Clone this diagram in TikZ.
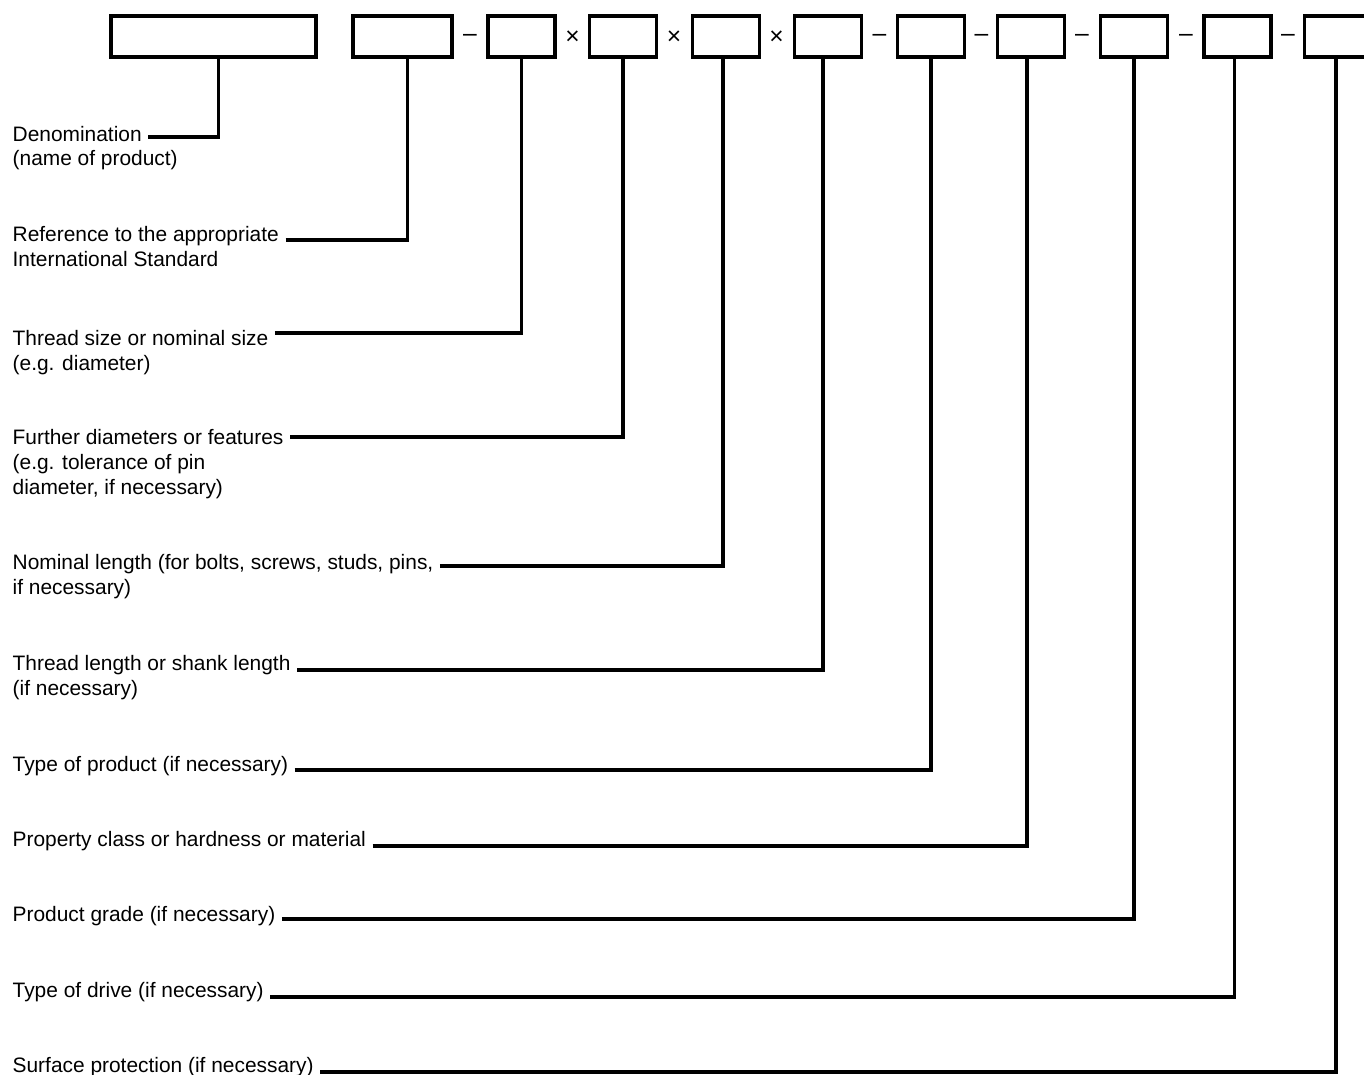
\documentclass[tikz,border=0pt]{standalone}
\usepackage{fontspec}
\setmainfont{Liberation Sans}
\usetikzlibrary{positioning,calc}

\begin{document}
\begin{tikzpicture}[x=0.02cm,y=-0.02cm,line width=1.9pt,
	field/.style={rectangle,draw,inner sep=0pt,minimum height=0.82cm,minimum width=1.34cm},
	lbl/.style={anchor=base west,inner sep=0pt,font=\fontsize{11.9}{14}\selectfont},
	sep/.style={inner sep=0pt,font=\fontsize{14}{16}\selectfont},
	lead/.style={line width=1.9pt}]
	\useasboundingbox (0,0) rectangle (1364,1074);
	
	% the designation fields
	\node[field,minimum width=4.1cm] (bx1) at (213.5,36.5) {};
	\node[field,minimum width=1.98cm] (bx2) at (402.5,36.5) {};
	\node[field] (bx3) at (521.5,36.5) {};
	\node[field] (bx4) at (623,36.5) {};
	\node[field] (bx5) at (726,36.5) {};
	\node[field] (bx6) at (828,36.5) {};
	\node[field] (bx7) at (931,36.5) {};
	\node[field] (bx8) at (1031,36.5) {};
	\node[field] (bx9) at (1134,36.5) {};
	\node[field] (bx10) at (1237.5,36.5) {};
	\node[field] (bx11) at (1338,36.5) {};
	
	\node[sep] (op1) at (470,38) {–};
	\node[sep] (op2) at (572.5,38) {×};
	\node[sep] (op3) at (674,38) {×};
	\node[sep] (op4) at (776.5,38) {×};
	\node[sep] (op5) at (879.5,38) {–};
	\node[sep] (op6) at (981.5,38) {–};
	\node[sep] (op7) at (1082,38) {–};
	\node[sep] (op8) at (1186,38) {–};
	\node[sep] (op9) at (1288,38) {–};
	
	% explanations
	\node[lbl] (denom) at (11,142) {Denomination};
	\node[lbl] (denom2) at (11,166) {(name of product)};
	\node[lbl] (stdref) at (11,242) {Reference to the appropriate};
	\node[lbl] (stdref2) at (11,267) {International Standard};
	\node[lbl] (thsize) at (11,345) {Thread size or nominal size};
	\node[lbl] (thsize2) at (11,370) {(e.g. diameter)};
	\node[lbl] (furth) at (11,444) {Further diameters or features};
	\node[lbl] (furth2) at (11,469) {(e.g. tolerance of pin};
	\node[lbl] (furth3) at (11,494) {diameter, if necessary)};
	\node[lbl] (nomlen) at (11,569) {Nominal length (for bolts, screws, studs, pins,};
	\node[lbl] (nomlen2) at (11,594) {if necessary)};
	\node[lbl] (thlen) at (11,670) {Thread length or shank length};
	\node[lbl] (thlen2) at (11,695) {(if necessary)};
	\node[lbl] (ptype) at (11,771) {Type of product (if necessary)};
	\node[lbl] (pclass) at (11,846) {Property class or hardness or material};
	\node[lbl] (grade) at (11,921) {Product grade (if necessary)};
	\node[lbl] (drive) at (11,997) {Type of drive (if necessary)};
	\node[lbl] (surf) at (11,1072) {Surface protection (if necessary)};
	
	\draw[lead] ($(denom.base east)+(5,-5)$) -| ($(bx1.south)+(5,0)$);
	\draw[lead] ($(stdref.base east)+(5,-2)$) -| ($(bx2.south)+(5,0)$);
	\draw[lead] ($(thsize.base east)+(5,-12)$) -| (bx3.south);
	\draw[lead] ($(furth.base east)+(5,-7)$) -| (bx4.south);
	\draw[lead] ($(nomlen.base east)+(5,-3)$) -| ($(bx5.south)+(-3,0)$);
	\draw[lead] ($(thlen.base east)+(5,0)$) -| ($(bx6.south)+(-5,0)$);
	\draw[lead] ($(ptype.base east)+(5,-1)$) -| (bx7.south);
	\draw[lead] ($(pclass.base east)+(5,0)$) -| ($(bx8.south)+(-4,0)$);
	\draw[lead] ($(grade.base east)+(5,-2)$) -| (bx9.south);
	\draw[lead] ($(drive.base east)+(5,0)$) -| ($(bx10.south)+(-3,0)$);
	\draw[lead] ($(surf.base east)+(5,0)$) -| ($(bx11.south)+(-2,0)$);
\end{tikzpicture}
\end{document}
